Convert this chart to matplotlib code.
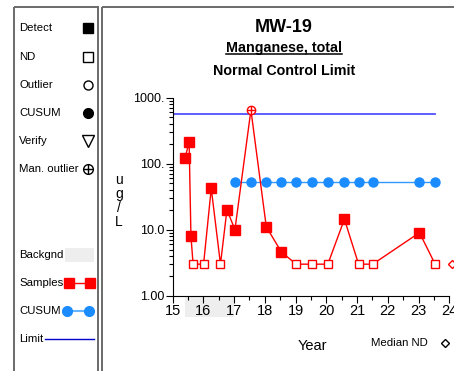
import matplotlib
matplotlib.use("Agg")
import matplotlib.pyplot as plt
from matplotlib.patches import Rectangle
from matplotlib.ticker import FixedLocator, FuncFormatter, LogLocator, MultipleLocator
import numpy as np

plt.rcParams['font.family'] = ['Liberation Sans', 'DejaVu Sans']

# datos
years = [15.41, 15.54, 15.60, 15.67, 16.01, 16.26, 16.56, 16.77, 17.03, 17.55,
         18.05, 18.54, 19.02, 19.53, 20.05, 20.59, 21.05, 21.51, 23.03, 23.54]
values = [122, 213, 7.9, 3, 3, 42, 3, 20, 10, 645,
          11, 4.6, 3, 3, 3, 14.4, 3, 3, 9.0, 3]
nondetect = [0, 0, 0, 1, 1, 0, 1, 0, 0, 0, 0, 0, 1, 1, 1, 0, 1, 1, 0, 1]
outlier = [0, 0, 0, 0, 0, 0, 0, 0, 0, 1, 0, 0, 0, 0, 0, 0, 0, 0, 0, 0]

cusum_years = [17.04, 17.55, 18.05, 18.54, 19.02, 19.53, 20.05, 20.59, 21.05, 21.51, 23.03, 23.54]
cusum_values = [52, 52, 52, 52, 52, 52, 52, 52, 52, 52, 52, 52]

limit_years = [15.0, 23.54]
limit_value = 560

backgnd_years = [15.4, 17.0]
median_nd_year = 24.1
median_nd_value = 3

ytick_vals = [1, 10, 100, 1000]
ytick_labels = ['1.00', '10.0', '100.', '1000.']

W, H = 454, 371
fig = plt.figure(figsize=(W / 100, H / 100), dpi=100)

# fondo en pixeles para los marcos, textos y la leyenda
bg = fig.add_axes([0, 0, 1, 1])
bg.set_xlim(0, W)
bg.set_ylim(H, 0)
bg.axis('off')

frame_col = '#6a6a6a'
bg.add_patch(Rectangle((14, 7), 84, 380, fill=False, ec=frame_col, lw=1.4))
bg.add_patch(Rectangle((102, 7), 380, 380, fill=False, ec=frame_col, lw=1.4))

# titulos
bg.text(284, 27, 'MW-19', ha='center', va='center', fontsize=13, fontweight='bold')
t2 = bg.text(284, 48, 'Manganese, total', ha='center', va='center', fontsize=10.3, fontweight='bold')
bg.text(284, 71, 'Normal Control Limit', ha='center', va='center', fontsize=10.3, fontweight='bold')
fig.canvas.draw()
bb = t2.get_window_extent().transformed(bg.transData.inverted())
bg.plot([bb.x0, bb.x1], [54, 54], color='black', lw=1.1)

# leyenda izquierda
fs_leg = 8.2
rows = [('Detect', 28, dict(marker='s', color='black', ms=6.5)),
        ('ND', 57, dict(marker='s', mfc='white', mec='black', ms=6.5, mew=1)),
        ('Outlier', 85, dict(marker='o', mfc='white', mec='black', ms=6.5, mew=1)),
        ('CUSUM', 113, dict(marker='o', color='black', ms=7)),
        ('Verify', 141, dict(marker='v', mfc='white', mec='black', ms=8, mew=1)),
        ('Man. outlier', 169, dict(marker='o', mfc='white', mec='black', ms=7, mew=1))]
for label, y, style in rows:
    bg.text(19, y, label, ha='left', va='center', fontsize=fs_leg)
    bg.plot([88], [y], linestyle='none', **style)
bg.plot([88], [169], marker='+', color='black', ms=7, mew=1)

bg.text(19, 255, 'Backgnd', ha='left', va='center', fontsize=fs_leg)
bg.add_patch(Rectangle((65, 248), 29, 14, color='#eeeeee', lw=0))
bg.text(19, 283, 'Samples', ha='left', va='center', fontsize=fs_leg)
bg.plot([69, 90], [283, 283], color='red', lw=1, marker='s', ms=6.5)
bg.text(19, 311, 'CUSUM', ha='left', va='center', fontsize=fs_leg)
bg.plot([67, 89], [311, 311], color='#66b3ff', lw=1.5, marker='o', mfc='#1a8cff', mec='#1a8cff', ms=7)
bg.text(19, 339, 'Limit', ha='left', va='center', fontsize=fs_leg)
bg.plot([45, 94], [339, 339], color='#0000cc', lw=1)

# textos alrededor del grafico
bg.text(119, 201, 'u\ng\n/\nL', ha='center', va='center', fontsize=10, linespacing=1.0)
bg.text(312, 346, 'Year', ha='center', va='center', fontsize=10.5)
bg.text(399, 343, 'Median ND', ha='center', va='center', fontsize=8.2)
bg.plot([445], [343], marker='D', mfc='white', mec='black', ms=4.5, mew=1)

# grafico principal
ax = fig.add_axes([172.5 / W, (H - 295.7) / H, (449.3 - 172.5) / W, 198.2 / H])
ax.patch.set_alpha(0)
ax.set_yscale('log')
ax.set_xlim(15, 24)
ax.set_ylim(1, 1000)
for s in ['top', 'right']:
    ax.spines[s].set_visible(False)
ax.xaxis.set_major_locator(MultipleLocator(1))
ax.xaxis.set_minor_locator(MultipleLocator(0.5))
ax.yaxis.set_major_locator(FixedLocator(ytick_vals))
ax.yaxis.set_minor_locator(LogLocator(base=10, subs=np.arange(2, 10)))
ax.yaxis.set_major_formatter(FuncFormatter(
    lambda v, p: ytick_labels[ytick_vals.index(round(v))] if round(v) in ytick_vals else ''))
ax.tick_params(axis='both', which='major', length=5, width=0.8, pad=1)
ax.tick_params(axis='x', which='major', labelsize=10.5)
ax.tick_params(axis='y', which='major', labelsize=9)
ax.tick_params(axis='both', which='minor', length=3, width=0.8)

ax.add_patch(Rectangle((backgnd_years[0], -0.107), backgnd_years[1] - backgnd_years[0], 0.107,
                       transform=ax.get_xaxis_transform(), color='#eeeeee', lw=0,
                       clip_on=False, zorder=0))

ax.plot(limit_years, [limit_value, limit_value], color='#5050ff', lw=1.3, zorder=2)
ax.plot(cusum_years, cusum_values, color='#3399ff', lw=1, marker='o', ms=6.5,
        mfc='#1a8cff', mec='#1a8cff', zorder=3)
ax.plot(years, values, color='red', lw=1, zorder=4)

yrs = np.array(years)
vals = np.array(values)
nd = np.array(nondetect) == 1
out = np.array(outlier) == 1
det = ~nd & ~out
ax.plot(yrs[det], vals[det], linestyle='none', marker='s', color='red', ms=6.5, zorder=5)
ax.plot(yrs[nd], vals[nd], linestyle='none', marker='s', mfc='white', mec='red', ms=6, mew=1, zorder=5)
ax.plot(yrs[out], vals[out], linestyle='none', marker='o', mfc='white', mec='red', ms=6, mew=1, zorder=5)
ax.plot(yrs[out], vals[out], linestyle='none', marker='+', color='red', ms=6, mew=1, zorder=6)
ax.plot([median_nd_year], [median_nd_value], marker='D', mfc='white', mec='red', ms=4.5,
        mew=1, clip_on=False, zorder=5)

fig.savefig('out.png', dpi=100)
